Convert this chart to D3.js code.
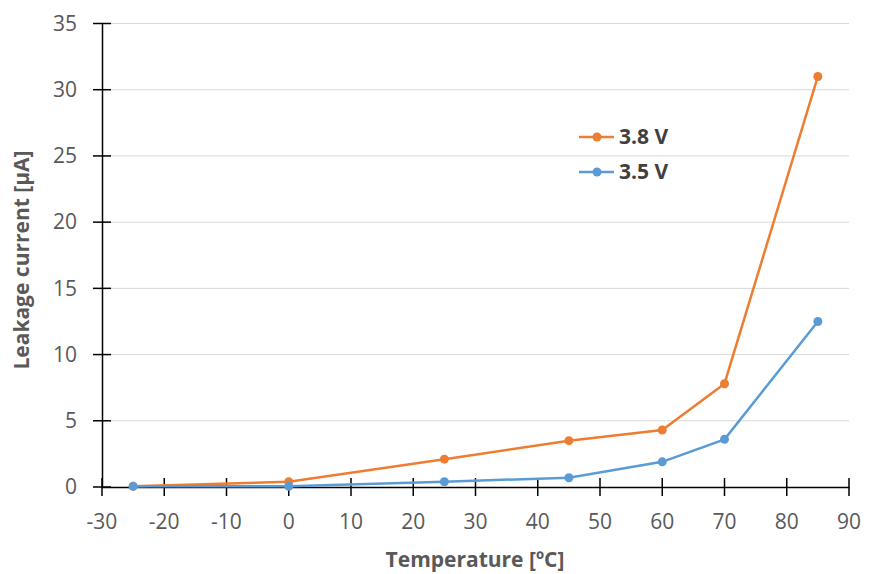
<!DOCTYPE html>
<html>
<head>
<meta charset="utf-8">
<script src="https://cdn.jsdelivr.net/npm/d3@7"></script>
<style>
  body { margin: 0; background: #fff; }
  svg { display: block; font-family: "Open Sans", "Noto Sans", sans-serif; }
  .grid line { stroke: #d9d9d9; stroke-width: 1; }
  .tick-label { fill: #595959; font-size: 21px; }
  .axis-title { fill: #595959; font-size: 21px; font-weight: bold; }
  .legend-label { fill: #404040; font-size: 21px; font-weight: bold; }
</style>
</head>
<body>
<svg id="chart" width="869" height="574"></svg>
<script>
// temperatures (°C)
var temps = [-25, 0, 25, 45, 60, 70, 85];
// leakage current [µA]
var v38 = [0.05, 0.4, 2.1, 3.5, 4.3, 7.8, 31.0];
var v35 = [0.05, 0.05, 0.4, 0.7, 1.9, 3.6, 12.5];
var seriesNames = ["3.8 V", "3.5 V"];
var seriesColors = ["#ed7d31", "#5b9bd5"];
var xTicks = [-30, -20, -10, 0, 10, 20, 30, 40, 50, 60, 70, 80, 90];
var yTicks = [0, 5, 10, 15, 20, 25, 30, 35];

var svg = d3.select("#chart");

var x = d3.scaleLinear().domain([-30, 90]).range([102, 849]);
var y = d3.scaleLinear().domain([0, 35]).range([487, 23.5]);

// gridlines
svg.append("g").attr("class", "grid")
  .selectAll("line").data(yTicks.filter(function(d){ return d > 0; }))
  .enter().append("line")
  .attr("x1", x(-30)).attr("x2", x(90))
  .attr("y1", function(d){ return y(d); })
  .attr("y2", function(d){ return y(d); });

// y axis
var yAxis = svg.append("g").attr("transform", "translate(" + x(-30) + ",0)")
  .call(d3.axisLeft(y).tickValues(yTicks).tickSize(0).tickFormat(""));
yAxis.select(".domain").attr("stroke", "#000").attr("stroke-width", 1.5);
yAxis.selectAll(".tick line").remove();
svg.append("g").selectAll("line").data(yTicks).enter().append("line")
  .attr("x1", x(-30) - 9).attr("x2", x(-30) + 9)
  .attr("y1", function(d){ return y(d); }).attr("y2", function(d){ return y(d); })
  .attr("stroke", "#000").attr("stroke-width", 1.5);
svg.append("g").selectAll("text").data(yTicks).enter().append("text")
  .attr("class", "tick-label")
  .attr("x", 77).attr("y", function(d){ return y(d); })
  .attr("dy", "0.35em").attr("text-anchor", "end")
  .text(function(d){ return d; });

// x axis
var xAxis = svg.append("g").attr("transform", "translate(0," + y(0) + ")")
  .call(d3.axisBottom(x).tickValues(xTicks).tickSize(0).tickFormat(""));
xAxis.select(".domain").attr("stroke", "#000").attr("stroke-width", 1.5);
svg.append("g").selectAll("line").data(xTicks).enter().append("line")
  .attr("x1", function(d){ return x(d); }).attr("x2", function(d){ return x(d); })
  .attr("y1", y(0) - 9).attr("y2", y(0) + 9)
  .attr("stroke", "#000").attr("stroke-width", 1.5);
svg.append("g").selectAll("text").data(xTicks).enter().append("text")
  .attr("class", "tick-label")
  .attr("x", function(d){ return x(d); }).attr("y", 529)
  .attr("text-anchor", "middle")
  .text(function(d){ return d; });

// axis titles
svg.append("text").attr("class", "axis-title")
  .attr("x", 475).attr("y", 567).attr("text-anchor", "middle")
  .text("Temperature [ºC]");
svg.append("text").attr("class", "axis-title")
  .attr("transform", "translate(29,260) rotate(-90)")
  .attr("text-anchor", "middle")
  .text("Leakage current [µA]");

// series
var series = [v38, v35];
var line = d3.line()
  .x(function(d, i){ return x(temps[i]); })
  .y(function(d){ return y(d); });

series.forEach(function(vals, s){
  var g = svg.append("g");
  g.append("path").datum(vals)
    .attr("d", line)
    .attr("fill", "none")
    .attr("stroke", seriesColors[s])
    .attr("stroke-width", 2.5);
  g.selectAll("circle").data(vals).enter().append("circle")
    .attr("cx", function(d, i){ return x(temps[i]); })
    .attr("cy", function(d){ return y(d); })
    .attr("r", 4.5)
    .attr("fill", seriesColors[s]);
});

// legend
var legend = svg.append("g");
seriesNames.forEach(function(name, s){
  var ly = 137 + s * 35;
  legend.append("line")
    .attr("x1", 579).attr("x2", 614).attr("y1", ly).attr("y2", ly)
    .attr("stroke", seriesColors[s]).attr("stroke-width", 2.5);
  legend.append("circle")
    .attr("cx", 597).attr("cy", ly).attr("r", 4.5)
    .attr("fill", seriesColors[s]);
  legend.append("text").attr("class", "legend-label")
    .attr("x", 619).attr("y", ly).attr("dy", "0.35em")
    .text(name);
});
</script>
</body>
</html>
